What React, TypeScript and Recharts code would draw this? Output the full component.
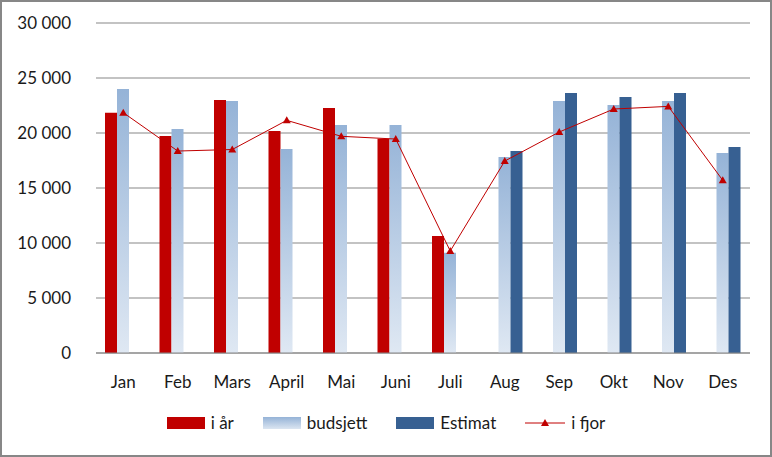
import { ComposedChart, Bar, Line, XAxis, YAxis, CartesianGrid } from 'recharts'

const RED = '#c00000'
const NAVY = '#376092'
const GRID = '#878787'
const TEXT = '#1a1a1a'
const FONT = 'Lato, "Liberation Sans", sans-serif'

const months = ['Jan', 'Feb', 'Mars', 'April', 'Mai', 'Juni', 'Juli', 'Aug', 'Sep', 'Okt', 'Nov', 'Des']
const iAar = [21850, 19730, 23000, 20180, 22270, 19480, 10640, null, null, null, null, null]
const budsjett = [24000, 20360, 22900, 18550, 20730, 20730, 9120, 17820, 22900, 22550, 22900, 18180]
const estimat = [null, null, null, null, null, null, null, 18360, 23640, 23270, 23640, 18730]
const iFjor = [21850, 18360, 18500, 21150, 19700, 19450, 9270, 17450, 20090, 22180, 22420, 15700]
const yTicks = [0, 5000, 10000, 15000, 20000, 25000, 30000]

const data = months.map((m, i) => ({
  month: m, iAar: iAar[i], budsjett: budsjett[i], estimat: estimat[i], iFjor: iFjor[i],
}))

const fmt = (v: number) => v === 0 ? '0' : v.toLocaleString('en-US').replace(/,/g, ' ')

// liten trekant som markør
function Tri({ cx, cy }: any) {
  if (cx == null || cy == null) return null
  return <path d={`M${cx},${cy - 4} L${cx + 4},${cy + 3} L${cx - 4},${cy + 3} Z`} fill={RED} />
}

function Swatch({ kind }: { kind: string }) {
  if (kind === 'line') {
    return (
      <svg width={40} height={12} style={{ display: 'block' }}>
        <line x1={0} y1={6} x2={40} y2={6} stroke={RED} strokeWidth={1} />
        <path d="M20,2 L24,9 L16,9 Z" fill={RED} />
      </svg>
    )
  }
  const bg = kind === 'red' ? RED : kind === 'navy' ? NAVY
    : 'linear-gradient(to bottom, #95b3d7, #dbe5f1)'
  return <span style={{ display: 'block', width: 38, height: 12, background: bg }} />
}

function LegendBox() {
  const items = [
    { kind: 'red', label: 'i år' },
    { kind: 'grad', label: 'budsjett' },
    { kind: 'navy', label: 'Estimat' },
    { kind: 'line', label: 'i fjor' },
  ]
  return (
    <div style={{ display: 'flex', justifyContent: 'center', gap: 29, fontFamily: FONT, fontSize: 17, color: TEXT }}>
      {items.map((it) => (
        <div key={it.label} style={{ display: 'flex', alignItems: 'center', gap: 6 }}>
          <Swatch kind={it.kind} />
          <span>{it.label}</span>
        </div>
      ))}
    </div>
  )
}

export default function App() {
  return (
    <div style={{ position: 'relative', width: 772, height: 457, background: '#fff' }}>
      <style>{'body{margin:0}'}</style>
      <ComposedChart width={772} height={457} data={data}
        margin={{ top: 23, right: 22, bottom: 74, left: 0 }} barGap={0} barSize={12}>
        <defs>
          <linearGradient id="budGrad" x1="0" y1="0" x2="0" y2="1">
            <stop offset="0%" stopColor="#95b3d7" />
            <stop offset="100%" stopColor="#dfe8f3" />
          </linearGradient>
        </defs>
        <CartesianGrid stroke={GRID} vertical={false} />
        <XAxis dataKey="month" tickLine={false} axisLine={{ stroke: GRID }} tickMargin={17}
          tick={{ fill: TEXT, fontSize: 17, fontFamily: FONT }} />
        <YAxis domain={[0, 30000]} ticks={yTicks} tickFormatter={fmt} width={96}
          axisLine={false} tickLine={false} tickMargin={19}
          tick={{ fill: TEXT, fontSize: 17, fontFamily: FONT }} />
        <Bar dataKey="iAar" name="i år" fill={RED} isAnimationActive={false} />
        <Bar dataKey="budsjett" name="budsjett" fill="url(#budGrad)" isAnimationActive={false} />
        <Bar dataKey="estimat" name="Estimat" fill={NAVY} isAnimationActive={false} />
        <Line dataKey="iFjor" name="i fjor" stroke={RED} strokeWidth={1} dot={<Tri />}
          activeDot={false} isAnimationActive={false} />
      </ComposedChart>
      <div style={{ position: 'absolute', left: 0, right: 0, top: 412 }}>
        <LegendBox />
      </div>
      <div style={{
        position: 'absolute', left: 0, top: 0, width: 772, height: 457, boxSizing: 'border-box',
        border: '2px solid #878787', pointerEvents: 'none',
      }} />
    </div>
  )
}
